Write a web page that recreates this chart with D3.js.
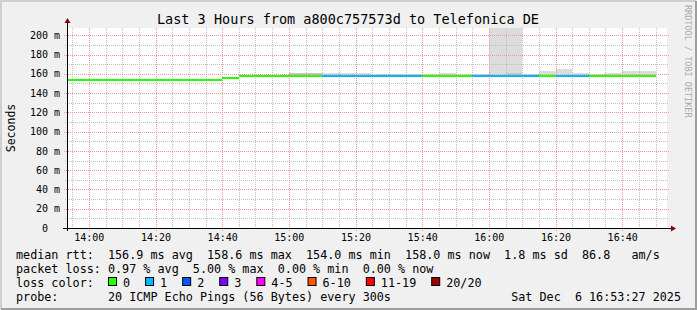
<!DOCTYPE html>
<html>
<head>
<meta charset="utf-8">
<script src="https://cdn.jsdelivr.net/npm/d3@7"></script>
<style>
body{margin:0;background:#f0f0f0}
svg{display:block}
text{font-family:"DejaVu Sans Mono",monospace;white-space:pre}
</style>
</head>
<body>
<svg id="chart" width="697" height="310"></svg>
<script>
// 5 minute buckets (start time of each bucket)
var bucketStarts = ["13:50","13:55","14:00","14:05","14:10","14:15","14:20","14:25","14:30","14:35",
    "14:40","14:45","14:50","14:55","15:00","15:05","15:10","15:15","15:20","15:25",
    "15:30","15:35","15:40","15:45","15:50","15:55","16:00","16:05","16:10","16:15",
    "16:20","16:25","16:30","16:35","16:40","16:45"]
// median rtt in ms
var medianRtt = [154.0,154.0,154.0,154.0,154.0,154.0,154.0,154.0,154.0,154.0,
    156.0,158.0,158.0,158.0,158.0,158.0,158.1,158.1,158.1,158.1,
    158.1,158.1,158.0,158.0,158.0,158.1,158.1,158.1,158.1,158.0,
    158.1,158.1,158.0,158.0,158.0,158.0]
// lost pings out of 20
var lossCount = [0,0,0,0,0,0,0,0,0,0,
    0,0,0,0,0,0,1,1,1,1,
    1,1,0,0,0,1,1,1,1,0,
    1,1,0,0,0,0]
// highest ping of the bucket (top of the smoke)
var smokeMax = [154.2,154.2,154.2,154.2,154.2,154.2,154.2,154.2,154.2,154.2,
    156.2,158.5,158.5,158.5,160.7,160.7,161.0,161.0,161.0,159.6,
    159.6,159.6,159.6,161.0,159.6,159.6,215.0,215.0,159.6,163.0,
    165.0,161.0,159.4,161.0,163.0,163.0]
// level up to which most pings fall (darker smoke)
var smokeDense = [154.0,154.0,154.0,154.0,154.0,154.0,154.0,154.0,154.0,154.0,
    156.0,158.0,158.0,158.0,160.6,160.6,158.1,158.1,158.1,158.1,
    158.1,158.1,158.0,158.0,158.0,158.1,158.1,161.0,158.1,158.0,
    158.1,158.1,158.0,158.0,158.0,158.0]

var yTicks = [0,20,40,60,80,100,120,140,160,180,200]
var xTickLabels = ["14:00","14:20","14:40","15:00","15:20","15:40","16:00","16:20","16:40"]
var lossLabels = ["0","1","2","3","4-5","6-10","11-19","20/20"]
var lossColors = ["#26ff00","#00b8ff","#0059ff","#7e00ff","#ff00ff","#ff5500","#ff0000","#a00000"]
var rttStats = ["156.9 ms avg","158.6 ms max","154.0 ms min","158.0 ms now","1.8 ms sd","86.8   am/s"]
var lossStats = ["0.97 % avg","5.00 % max","0.00 % min","0.00 % now"]

var svg = d3.select("#chart")
var parseHM = d3.timeParse("%H:%M")
var parseHMS = d3.timeParse("%H:%M:%S")
var start = parseHMS("13:53:27")
var end = parseHMS("16:53:27")

var pLeft = 67, pRight = 667, pTop = 28, pBottom = 228
var x = d3.scaleTime().domain([start,end]).range([pLeft,pRight])
var y = d3.scaleLinear().domain([0,207.5]).range([pBottom,pTop])
// pixel snapped helpers
function px(t){return Math.round(x(t))}
function py(v){return Math.round(y(v))}

function lossIndex(n){
    if(n<=3) return n
    if(n<=5) return 4
    if(n<=10) return 5
    if(n<=19) return 6
    return 7
}

// frame
svg.append("rect").attr("width",697).attr("height",310).attr("fill","#f0f0f0")
svg.append("path").attr("d","M1,309V1H696").attr("fill","none").attr("stroke","#cfcfcf").attr("stroke-width",2)
svg.append("path").attr("d","M1,309H696V1").attr("fill","none").attr("stroke","#9e9e9e").attr("stroke-width",2)

// canvas
svg.append("rect").attr("x",pLeft).attr("y",pTop).attr("width",pRight-pLeft).attr("height",pBottom-pTop).attr("fill","#fff")

svg.append("clipPath").attr("id","plotclip").append("rect")
    .attr("x",pLeft).attr("y",pTop).attr("width",pRight-pLeft).attr("height",pBottom-pTop)

// smoke
var buckets = bucketStarts.map(function(s,i){
    var t0 = parseHM(s)
    return {t0:t0,t1:d3.timeMinute.offset(t0,5),med:medianRtt[i],hi:smokeMax[i],dense:smokeDense[i],loss:lossCount[i]}
})
var smoke = svg.append("g").attr("clip-path","url(#plotclip)").attr("shape-rendering","crispEdges")
smoke.selectAll(".smoke").data(buckets).enter().append("rect")
    .attr("class","smoke")
    .attr("x",function(d){return px(d.t0)})
    .attr("width",function(d){return px(d.t1)-px(d.t0)})
    .attr("y",function(d){return py(d.hi)})
    .attr("height",function(d){return Math.max(0,py(d.med)-py(d.hi))})
    .attr("fill","#dcdcdc")
smoke.selectAll(".dense").data(buckets).enter().append("rect")
    .attr("class","dense")
    .attr("x",function(d){return px(d.t0)})
    .attr("width",function(d){return px(d.t1)-px(d.t0)})
    .attr("y",function(d){return py(d.dense)})
    .attr("height",function(d){return Math.max(0,py(d.med)-py(d.dense))})
    .attr("fill","#c4c4c4")

// grid
var majorTimes = xTickLabels.map(parseHM)
var minorTimes = d3.timeMinute.every(5).range(start,end).filter(function(t){return t.getMinutes()%20!=0})
var grid = svg.append("g")
grid.selectAll(".vminor").data(minorTimes).enter().append("line")
    .attr("x1",function(d){return px(d)+0.5}).attr("x2",function(d){return px(d)+0.5})
    .attr("y1",pTop).attr("y2",pBottom+2)
    .attr("stroke","#c0c0c0").attr("stroke-dasharray","1,1")
grid.selectAll(".hminor").data(d3.range(10,207.5,20)).enter().append("line")
    .attr("y1",function(d){return py(d)+0.5}).attr("y2",function(d){return py(d)+0.5})
    .attr("x1",pLeft-2).attr("x2",pRight+2)
    .attr("stroke","#c0c0c0").attr("stroke-dasharray","1,1")
grid.selectAll(".vmajor").data(majorTimes).enter().append("line")
    .attr("x1",function(d){return px(d)+0.5}).attr("x2",function(d){return px(d)+0.5})
    .attr("y1",pTop).attr("y2",pBottom+3)
    .attr("stroke","#f09898").attr("stroke-dasharray","1,1")
grid.selectAll(".hmajor").data(yTicks.slice(1)).enter().append("line")
    .attr("y1",function(d){return py(d)+0.5}).attr("y2",function(d){return py(d)+0.5})
    .attr("x1",pLeft-3).attr("x2",pRight+3)
    .attr("stroke","#f09898").attr("stroke-dasharray","1,1")

// median line, coloured by loss
var line = svg.append("g").attr("clip-path","url(#plotclip)").attr("shape-rendering","crispEdges")
line.selectAll(".step").data(buckets.slice(1)).enter().append("line")
    .attr("class","step")
    .attr("x1",function(d){return px(d.t0)+0.5}).attr("x2",function(d){return px(d.t0)+0.5})
    .attr("y1",function(d,i){return py(buckets[i].med)-1}).attr("y2",function(d){return py(d.med)})
    .attr("stroke","#303030").attr("stroke-width",1)
line.selectAll(".median").data(buckets).enter().append("line")
    .attr("class","median")
    .attr("x1",function(d){return px(d.t0)}).attr("x2",function(d){return px(d.t1)})
    .attr("y1",function(d){return py(d.med)}).attr("y2",function(d){return py(d.med)})
    .attr("stroke",function(d){return lossColors[lossIndex(d.loss)]})
    .attr("stroke-width",2)

// axes
var yAxis = d3.axisLeft(y).tickValues(yTicks).tickSize(0).tickPadding(7)
    .tickFormat(function(d){return d==0 ? "0  " : d+" m"})
var ya = svg.append("g").attr("transform","translate("+pLeft+",0)").call(yAxis)
ya.select(".domain").remove()
ya.selectAll("text").attr("font-family","DejaVu Sans Mono").attr("font-size","10px").attr("fill","#000")

var xAxis = d3.axisBottom(x).tickValues(majorTimes).tickSize(0).tickPadding(6)
    .tickFormat(d3.timeFormat("%H:%M"))
var xa = svg.append("g").attr("transform","translate(0,"+pBottom+")").call(xAxis)
xa.select(".domain").remove()
xa.selectAll("text").attr("font-family","DejaVu Sans Mono").attr("font-size","10px").attr("fill","#000")

svg.append("line").attr("x1",pLeft+0.5).attr("x2",pLeft+0.5).attr("y1",pBottom+3).attr("y2",pTop-6).attr("stroke","#000")
svg.append("line").attr("x1",pLeft-4).attr("x2",pRight+5).attr("y1",pBottom+0.5).attr("y2",pBottom+0.5).attr("stroke","#000")
svg.append("path").attr("d","M"+(pLeft-2.5)+","+(pTop-5)+"L"+(pLeft+3.5)+","+(pTop-5)+"L"+(pLeft+0.5)+","+(pTop-10)+"Z").attr("fill","#8b0000")
svg.append("path").attr("d","M"+(pRight+4)+","+(pBottom-2.5)+"L"+(pRight+4)+","+(pBottom+3.5)+"L"+(pRight+9)+","+(pBottom+0.5)+"Z").attr("fill","#8b0000")

// titles
svg.append("text").text("Last 3 Hours from a800c757573d to Telefonica DE")
    .attr("x",348).attr("y",24).attr("text-anchor","middle").attr("font-size","13.5px")
svg.append("text").text("Seconds")
    .attr("transform","translate(15,"+((pTop+pBottom)/2)+") rotate(-90)")
    .attr("text-anchor","middle").attr("font-size","11.5px")
svg.append("text").text("RRDTOOL / TOBI OETIKER")
    .attr("transform","translate(685,5) rotate(90)")
    .attr("font-size","8.5px").attr("fill","#aaa")

// legend
var lx = 16, fs = "11.75px"
svg.append("text").attr("x",lx).attr("y",258.5).attr("font-size",fs)
    .text("median rtt:  "+rttStats.join("  "))
svg.append("text").attr("x",lx).attr("y",272.5).attr("font-size",fs)
    .text("packet loss: "+lossStats.join("  "))
svg.append("text").attr("x",lx).attr("y",286.5).attr("font-size",fs)
    .text("loss color:")
var bx = 108
lossLabels.forEach(function(l,i){
    svg.append("rect").attr("x",bx+0.5).attr("y",277.5).attr("width",8).attr("height",8)
        .attr("fill",lossColors[i]).attr("stroke","#000")
    var t = svg.append("text").attr("x",bx+15).attr("y",286.5).attr("font-size",fs).text(l)
    bx = bx+15+t.node().getComputedTextLength()+15
})
svg.append("text").attr("x",lx).attr("y",300.5).attr("font-size",fs)
    .text("probe:       20 ICMP Echo Pings (56 Bytes) every 300s")
svg.append("text").attr("x",681).attr("y",300.5).attr("font-size",fs).attr("text-anchor","end")
    .text("Sat Dec  6 16:53:27 2025")
</script>
</body>
</html>
